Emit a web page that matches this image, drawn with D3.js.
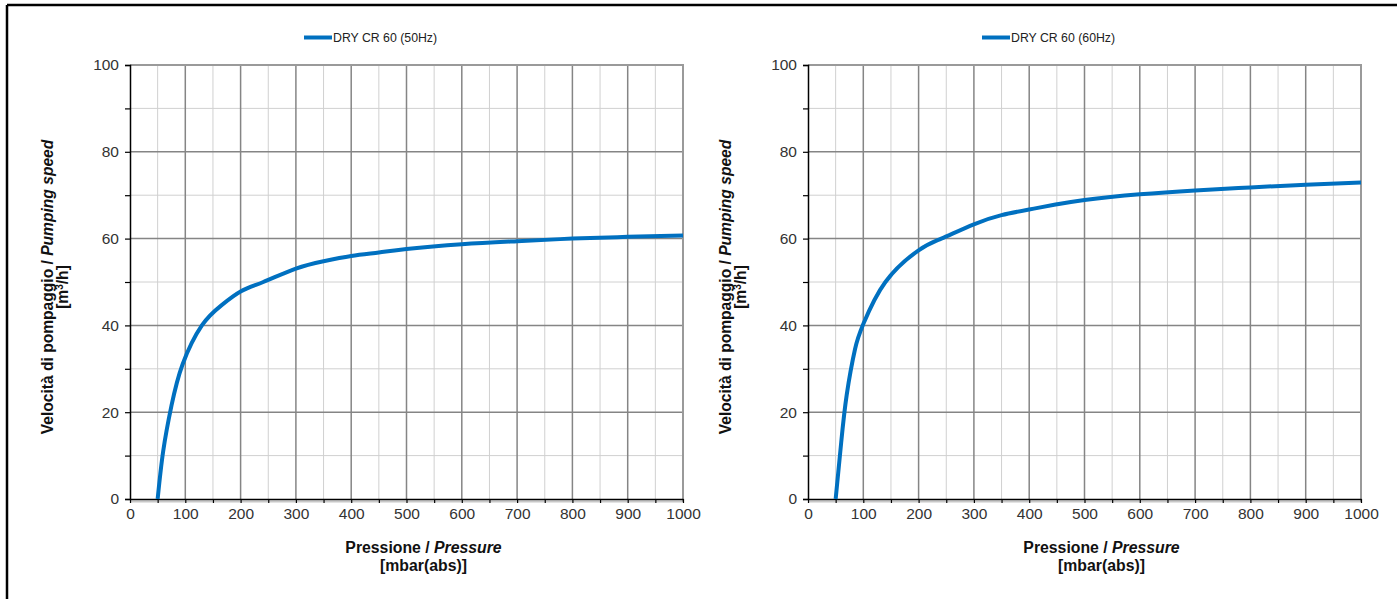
<!DOCTYPE html>
<html>
<head>
<meta charset="utf-8">
<script src="https://cdn.jsdelivr.net/npm/d3@7"></script>
<style>
  html, body { margin: 0; padding: 0; background: #fff; }
  svg { display: block; }
  text { font-family: "Liberation Sans", Arial, sans-serif; }
</style>
</head>
<body>
<svg id="chart" width="1397" height="599"></svg>
<script>
// Pressure (mbar abs) sampled along each curve
const pressure50 = [50, 60, 75, 95, 130, 165, 200, 241, 300, 350, 400, 450, 500, 600, 700, 800, 900, 1000];
const speed50    = [0, 11, 21.5, 31, 40, 44.6, 47.8, 50, 53.1, 54.8, 56.0, 56.8, 57.6, 58.7, 59.4, 60.0, 60.4, 60.7];

const pressure60 = [50, 60, 70, 85, 100, 140, 200, 241, 300, 350, 400, 450, 500, 600, 700, 800, 900, 1000];
const speed60    = [0, 13, 24, 34.5, 40.3, 50, 57.3, 60, 63.3, 65.4, 66.7, 67.9, 68.9, 70.2, 71.1, 71.8, 72.4, 72.9];

const xTicks = [0, 100, 200, 300, 400, 500, 600, 700, 800, 900, 1000];
const yTicks = [0, 20, 40, 60, 80, 100];
const seriesNames = ["DRY CR 60 (50Hz)", "DRY CR 60 (60Hz)"];

const svg = d3.select("#chart");

// outer frame (top and left edges)
svg.append("line").attr("x1", 7).attr("x2", 1397).attr("y1", 5).attr("y2", 5)
  .attr("stroke", "#000").attr("stroke-width", 2.5);
svg.append("line").attr("x1", 7).attr("x2", 7).attr("y1", 5).attr("y2", 599)
  .attr("stroke", "#000").attr("stroke-width", 2.5);

function drawPanel(left, xs, ys, name) {
  const plot = { x0: left, x1: left + 553, y0: 65, y1: 499 };
  const x = d3.scaleLinear().domain([0, 1000]).range([plot.x0, plot.x1]);
  const y = d3.scaleLinear().domain([0, 100]).range([plot.y1, plot.y0]);
  const g = svg.append("g");

  // minor grid
  const minorX = d3.range(50, 1000, 100);
  const minorY = d3.range(10, 100, 20);
  g.selectAll(".mx").data(minorX).enter().append("line")
    .attr("x1", d => x(d)).attr("x2", d => x(d)).attr("y1", plot.y0).attr("y2", plot.y1)
    .attr("stroke", "#d0d0d0").attr("stroke-width", 1);
  g.selectAll(".my").data(minorY).enter().append("line")
    .attr("x1", plot.x0).attr("x2", plot.x1).attr("y1", d => y(d)).attr("y2", d => y(d))
    .attr("stroke", "#d0d0d0").attr("stroke-width", 1);

  // major grid
  g.selectAll(".Mx").data(xTicks.slice(1)).enter().append("line")
    .attr("x1", d => x(d)).attr("x2", d => x(d)).attr("y1", plot.y0).attr("y2", plot.y1)
    .attr("stroke", "#858585").attr("stroke-width", 1.5);
  g.selectAll(".My").data(yTicks.slice(1)).enter().append("line")
    .attr("x1", plot.x0).attr("x2", plot.x1).attr("y1", d => y(d)).attr("y2", d => y(d))
    .attr("stroke", "#858585").attr("stroke-width", 1.5);

  // light band under the x axis
  g.append("line").attr("x1", plot.x0).attr("x2", plot.x1)
    .attr("y1", plot.y1 + 2.5).attr("y2", plot.y1 + 2.5)
    .attr("stroke", "#c8c8c8").attr("stroke-width", 2);

  // plot border (right/top)
  g.append("path")
    .attr("d", `M${plot.x0},${plot.y0}H${plot.x1}V${plot.y1 + 3}`)
    .attr("fill", "none").attr("stroke", "#9a9a9a").attr("stroke-width", 2);

  // y axis
  const yAxis = d3.axisLeft(y).tickValues(d3.range(0, 101, 10)).tickSize(5)
    .tickFormat(d => yTicks.includes(d) ? d : "");
  const ya = g.append("g").attr("transform", `translate(${plot.x0},0)`).call(yAxis);
  ya.select(".domain").attr("stroke", "#000").attr("stroke-width", 1.5);
  ya.selectAll(".tick line").attr("stroke", "#000").attr("stroke-width", 1.2);
  ya.selectAll(".tick text").attr("x", -11).attr("fill", "#333")
    .style("font-size", "15.5px").style("font-family", "Liberation Sans, Arial, sans-serif");

  // x axis
  const xAxis = d3.axisBottom(x).tickValues(d3.range(0, 1001, 50)).tickSize(4)
    .tickSizeOuter(0).tickFormat(d => xTicks.includes(d) ? d : "");
  const xa = g.append("g").attr("transform", `translate(0,${plot.y1})`).call(xAxis);
  xa.select(".domain").attr("stroke", "#000").attr("stroke-width", 1.5);
  xa.selectAll(".tick line").attr("stroke", "#000").attr("stroke-width", 1.2);
  xa.selectAll(".tick text").attr("y", 9).attr("fill", "#333")
    .style("font-size", "15.5px").style("font-family", "Liberation Sans, Arial, sans-serif");

  // curve
  const pts = xs.map((p, i) => [p, ys[i]]);
  g.append("path").datum(pts)
    .attr("d", d3.line().x(d => x(d[0])).y(d => y(d[1])).curve(d3.curveNatural))
    .attr("fill", "none").attr("stroke", "#0070c0").attr("stroke-width", 4)
    .attr("stroke-linecap", "butt");

  // legend
  const lx = left + 174;
  g.append("line").attr("x1", lx).attr("x2", lx + 28).attr("y1", 37.5).attr("y2", 37.5)
    .attr("stroke", "#0070c0").attr("stroke-width", 4);
  g.append("text").attr("x", lx + 29).attr("y", 42).attr("fill", "#222")
    .style("font-size", "12.3px").text(name);

  // x title
  const xc = (plot.x0 + plot.x1) / 2 + 17;
  const xt = g.append("text").attr("x", xc).attr("y", 553).attr("text-anchor", "middle")
    .attr("fill", "#111").style("font-size", "15.8px").style("font-weight", "bold");
  xt.append("tspan").text("Pressione / ");
  xt.append("tspan").style("font-style", "italic").text("Pressure");
  g.append("text").attr("x", xc).attr("y", 571).attr("text-anchor", "middle")
    .attr("fill", "#111").style("font-size", "15.8px").style("font-weight", "bold")
    .text("[mbar(abs)]");

  // y title
  const yc = 287;
  const yt = g.append("text").attr("transform", `translate(${left - 77},${yc}) rotate(-90)`)
    .attr("text-anchor", "middle").attr("fill", "#111")
    .style("font-size", "15.6px").style("font-weight", "bold");
  yt.append("tspan").text("Velocità di pompaggio / ");
  yt.append("tspan").style("font-style", "italic").text("Pumping speed");
  const yt2 = g.append("text").attr("transform", `translate(${left - 62},${yc}) rotate(-90)`)
    .attr("text-anchor", "middle").attr("fill", "#111")
    .style("font-size", "15.6px").style("font-weight", "bold");
  yt2.append("tspan").text("[m");
  yt2.append("tspan").attr("dy", -5).style("font-size", "10px").text("3");
  yt2.append("tspan").attr("dy", 5).text("/h]");
}

drawPanel(130, pressure50, speed50, seriesNames[0]);
drawPanel(808, pressure60, speed60, seriesNames[1]);
</script>
</body>
</html>
